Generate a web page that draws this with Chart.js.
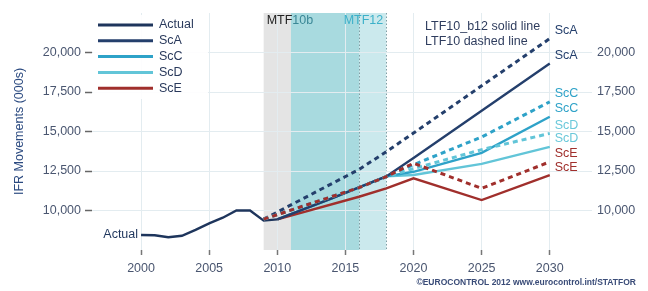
<!DOCTYPE html>
<html>
<head>
<meta charset="utf-8">
<script src="https://cdn.jsdelivr.net/npm/chart.js@4/dist/chart.umd.min.js"></script>
<style>
  html, body { margin: 0; padding: 0; background: #fff; }
  #wrap { width: 648px; height: 291px; position: relative; }
</style>
</head>
<body>
<div id="wrap"><canvas id="ifrChart"></canvas></div>
<script>
const FONT = "'Liberation Sans', Arial, sans-serif";

// years and values (thousands of IFR movements)
const actualYears = [2000, 2001, 2002, 2003, 2004, 2005, 2006, 2007, 2008, 2009, 2010];
const actualVals = [8450, 8430, 8310, 8400, 8770, 9190, 9545, 10000, 10000, 9360, 9440];

// LTF10_b12 (solid)
const solidYears = [2010, 2014, 2018, 2020, 2025, 2030];
const scASolid = [9440, 10770, 12160, 13330, 16320, 19300];
const scCSolid = [9440, 10770, 12160, 12450, 13650, 15930];
const scDSolid = [9440, 10770, 12160, 12250, 12950, 14030];
const scESolidYears = [2010, 2016, 2018, 2020, 2025, 2030];
const scESolid = [9440, 10870, 11400, 12035, 10660, 12240];

// LTF10 (dashed)
const dashYears = [2009, 2016, 2018, 2020, 2025, 2030];
const scADash = [9450, 12600, 13720, 14900, 17890, 20880];
const scCDash = [9450, 11450, 12140, 12900, 14650, 16880];
const scDDash = [9450, 11450, 12140, 12650, 13850, 14880];
const scEDash = [9450, 11450, 12140, 12990, 11400, 13080];

const xTicks = [2000, 2005, 2010, 2015, 2020, 2025, 2030];
const yTicks = [10000, 12500, 15000, 17500, 20000];
const legendNames = ['Actual', 'ScA', 'ScC', 'ScD', 'ScE'];
const bands = [[2009, 2011, 'gray'], [2011, 2016, 'teal'], [2016, 2018, 'light']];

const COL = { actual: '#1e355c', a: '#243f6c', c: '#2ea2c8', d: '#62c5d8', e: '#a02f2c' };

function pts(xs, ys) { return xs.map((x, i) => ({ x: x, y: ys[i] })); }

function line(label, xs, ys, color, dashed, tag) {
  return {
    label: label, data: pts(xs, ys), borderColor: color, backgroundColor: color,
    borderWidth: dashed ? 3 : 2.4, borderDash: dashed ? [5, 4] : [],
    pointRadius: 0, tension: 0, fill: false, tag: tag
  };
}

const datasets = [
  line('ScE', dashYears, scEDash, COL.e, true, 'end'),
  line('ScD', dashYears, scDDash, COL.d, true, 'end'),
  line('ScC', dashYears, scCDash, COL.c, true, 'end'),
  line('ScA', dashYears, scADash, COL.a, true, 'end'),
  line('ScA', solidYears, scASolid, COL.a, false, 'end'),
  line('ScE', scESolidYears, scESolid, COL.e, false, 'end'),
  line('ScC', solidYears, scCSolid, COL.c, false, 'end'),
  line('ScD', solidYears, scDSolid, COL.d, false, 'end'),
  line('Actual', actualYears, actualVals, COL.actual, false, 'start')
];

const bandPlugin = {
  id: 'bands',
  beforeDraw(chart) {
    const { ctx, chartArea: ca, scales: { x } } = chart;
    const fills = { gray: '#e4e4e4', teal: '#a8dadf', light: '#cbe9ed' };
    ctx.save();
    bands.forEach(b => {
      const x0 = x.getPixelForValue(b[0]), x1 = x.getPixelForValue(b[1]);
      ctx.fillStyle = fills[b[2]];
      ctx.fillRect(x0, ca.top, x1 - x0, ca.bottom - ca.top);
    });
    ctx.setLineDash([1.5, 2]);
    ctx.strokeStyle = '#7f9ea4';
    ctx.lineWidth = 1;
    [2016, 2018].forEach(v => {
      const px = Math.round(x.getPixelForValue(v)) + 0.5;
      ctx.beginPath(); ctx.moveTo(px, ca.top); ctx.lineTo(px, ca.bottom); ctx.stroke();
    });
    ctx.restore();
  }
};

const notesPlugin = {
  id: 'notes',
  afterDatasetsDraw(chart) {
    const { ctx, chartArea: ca, scales: { x } } = chart;
    ctx.save();
    ctx.textBaseline = 'middle';

    // band labels
    ctx.font = '12.5px ' + FONT;
    const mx = x.getPixelForValue(2009) + 3;
    ctx.fillStyle = '#222';
    ctx.textAlign = 'left';
    ctx.fillText('MTF', mx, ca.top + 8);
    const w = ctx.measureText('MTF').width;
    ctx.fillStyle = '#3a8796';
    ctx.fillText('10b', mx + w, ca.top + 8);
    ctx.fillStyle = '#3bb0c9';
    ctx.textAlign = 'right';
    ctx.fillText('MTF12', x.getPixelForValue(2018) - 3, ca.top + 8);

    // series end labels
    chart.data.datasets.forEach((ds, i) => {
      const meta = chart.getDatasetMeta(i);
      if (ds.tag === 'end') {
        const p = meta.data[meta.data.length - 1];
        ctx.fillStyle = ds.borderColor === COL.d ? '#6ac8da' : ds.borderColor;
        ctx.textAlign = 'left';
        ctx.fillText(ds.label, p.x + 5, p.y - 8);
      } else {
        const p = meta.data[0];
        ctx.fillStyle = ds.borderColor;
        ctx.textAlign = 'right';
        ctx.fillText(ds.label, p.x - 3, p.y);
      }
    });

    // legend
    ctx.fillStyle = 'rgba(255,255,255,0.9)';
    ctx.fillRect(ca.left + 1, ca.top + 2, 115, 84);
    legendNames.forEach((name, i) => {
      const ds = chart.data.datasets.find(d => d.label === name && d.borderDash.length === 0);
      const y = 25 + i * 15.8;
      ctx.strokeStyle = ds.borderColor;
      ctx.lineWidth = 3;
      ctx.beginPath(); ctx.moveTo(98, y); ctx.lineTo(153, y); ctx.stroke();
      ctx.fillStyle = '#2a3a5c';
      ctx.textAlign = 'left';
      ctx.fillText(name, 159, y);
    });

    // line style note
    ctx.fillStyle = '#2f3d5e';
    ctx.fillText('LTF10_b12 solid line', 425, 27);
    ctx.fillText('LTF10 dashed line', 425, 42);

    // source
    ctx.font = 'bold 8.5px ' + FONT;
    ctx.fillStyle = '#3a4c78';
    ctx.textAlign = 'right';
    ctx.fillText('\u00A9EUROCONTROL 2012 www.eurocontrol.int/STATFOR', 636, 283);
    ctx.restore();
  }
};

const tickColor = '#4a5670';

new Chart(document.getElementById('ifrChart'), {
  type: 'line',
  data: { datasets: datasets },
  plugins: [bandPlugin, notesPlugin],
  options: {
    responsive: true, maintainAspectRatio: false, animation: false,
    layout: { padding: { top: 13 } },
    plugins: { legend: { display: false }, tooltip: { enabled: false } },
    scales: {
      x: {
        type: 'linear', min: 1996.4, max: 2033.1,
        afterBuildTicks: s => { s.ticks = xTicks.map(v => ({ value: v })); },
        afterFit: s => { s.height = 41; },
        border: { display: false },
        grid: { color: '#e3ecf0', lineWidth: 1, tickLength: 5, tickColor: '#777', tickWidth: 1.5 },
        ticks: { color: tickColor, font: { family: FONT, size: 12.5 }, padding: 6, callback: v => String(v) }
      },
      y: {
        position: 'left', min: 7500, max: 22500,
        afterBuildTicks: s => { s.ticks = yTicks.map(v => ({ value: v })); },
        afterFit: s => { s.width = 92; },
        border: { display: false },
        grid: { color: '#e3ecf0', lineWidth: 1, tickLength: 7, tickColor: '#666', tickWidth: 1.5 },
        ticks: { color: tickColor, font: { family: FONT, size: 12.5 }, padding: 4, callback: v => v.toLocaleString('en-US') },
        title: { display: true, text: 'IFR Movements (000s)', color: '#2b4a80', font: { family: FONT, size: 12.5 }, padding: { top: 12, bottom: 0 } }
      },
      y2: {
        position: 'right', min: 7500, max: 22500,
        afterBuildTicks: s => { s.ticks = yTicks.map(v => ({ value: v })); },
        afterFit: s => { s.width = 56; },
        border: { display: false },
        grid: { display: false, drawTicks: false },
        ticks: { color: tickColor, font: { family: FONT, size: 12.5 }, padding: 5, callback: v => v.toLocaleString('en-US') }
      }
    }
  }
});
</script>
</body>
</html>
